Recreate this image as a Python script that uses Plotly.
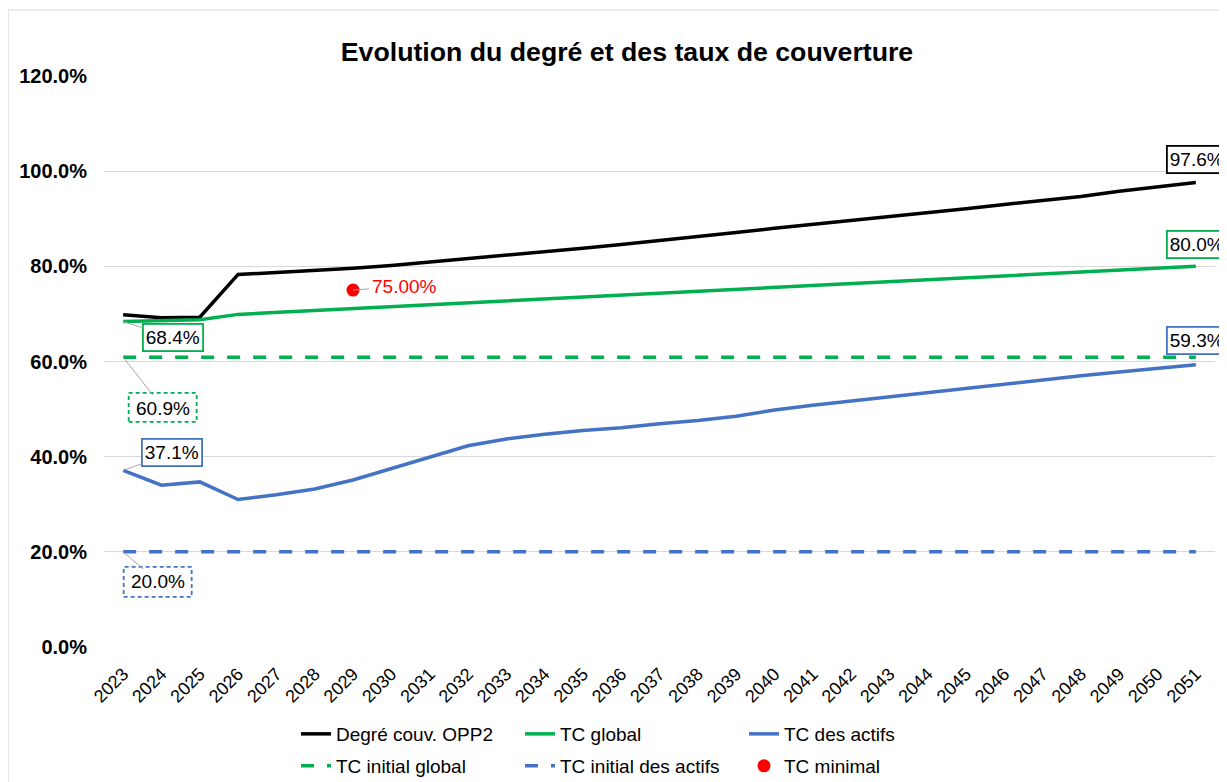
import plotly.graph_objects as go

years = list(range(2023, 2052))
year_labels = [str(y) for y in years]

degre_opp2 = [69.8, 69.2, 69.3, 78.3, 78.7, 79.1, 79.6, 80.2, 80.9, 81.6, 82.3, 83.0,
              83.8, 84.6, 85.4, 86.2, 87.1, 88.0, 88.8, 89.6, 90.5, 91.3, 92.1, 93.0,
              93.8, 94.7, 95.8, 96.7, 97.6]
tc_global = [68.4, 68.6, 68.8, 69.9, 70.3, 70.7, 71.1, 71.5, 71.9, 72.3, 72.7, 73.1,
             73.5, 73.9, 74.3, 74.7, 75.2, 75.6, 76.0, 76.4, 76.8, 77.2, 77.6, 78.0,
             78.4, 78.8, 79.2, 79.6, 80.0]
tc_actifs = [37.1, 34.0, 34.7, 31.0, 32.0, 33.2, 35.1, 37.5, 39.9, 42.3, 43.7, 44.7,
             45.5, 46.1, 46.9, 47.6, 48.5, 49.8, 50.8, 51.7, 52.6, 53.5, 54.4, 55.3,
             56.2, 57.0, 57.8, 58.6, 59.3]
tc_initial_global = [60.9] * len(years)
tc_initial_actifs = [20.0] * len(years)
tc_minimal_year = [2029]
tc_minimal = [75.0]

y_ticks = [0, 20, 40, 60, 80, 100, 120]

BLACK = "#000000"
GREEN = "#00B050"
BLUE = "#4472C4"
RED = "#FF0000"
GRID = "#D9D9D9"
FONT = "Liberation Sans, Arial, sans-serif"

fig = go.Figure()
fig.add_trace(go.Scatter(x=years, y=degre_opp2, mode="lines", name="Degré couv. OPP2",
                         line=dict(color=BLACK, width=3.5), legend="legend"))
fig.add_trace(go.Scatter(x=years, y=tc_global, mode="lines", name="TC global",
                         line=dict(color=GREEN, width=3.5), legend="legend"))
fig.add_trace(go.Scatter(x=years, y=tc_actifs, mode="lines", name="TC des actifs",
                         line=dict(color=BLUE, width=3.5), legend="legend"))
fig.add_trace(go.Scatter(x=years, y=tc_initial_global, mode="lines", name="TC initial global",
                         line=dict(color=GREEN, width=3.5, dash="13px,13px"), legend="legend2"))
fig.add_trace(go.Scatter(x=years, y=tc_initial_actifs, mode="lines", name="TC initial des actifs",
                         line=dict(color=BLUE, width=3.5, dash="13px,13px"), legend="legend2"))
fig.add_trace(go.Scatter(x=tc_minimal_year, y=tc_minimal, mode="markers", name="TC minimal",
                         marker=dict(color=RED, size=13), legend="legend2"))

annotations = []
shapes = []

def boxed(x, y, text, color, xshift, yshift):
    annotations.append(dict(x=x, y=y, text=text, showarrow=False, xshift=xshift, yshift=yshift,
                            font=dict(size=19, color="black", family=FONT),
                            bordercolor=color, borderwidth=1.8, borderpad=2, bgcolor="white"))

def leader(x, y, text, color, ax, ay, border=True, fcolor="black"):
    a = dict(x=x, y=y, text=text, showarrow=True, arrowhead=0, arrowwidth=1,
             arrowcolor="#A6A6A6", ax=ax, ay=ay, axref="pixel", ayref="pixel",
             font=dict(size=19, color=fcolor, family=FONT), borderpad=2)
    if border:
        a.update(bordercolor=color, borderwidth=1.8, bgcolor="white")
    annotations.append(a)

def dashed_box(x, y, color, x0, x1, y0, y1):
    shapes.append(dict(type="rect", xref="x", yref="y", xsizemode="pixel", ysizemode="pixel",
                       xanchor=x, yanchor=y, x0=x0, x1=x1, y0=y0, y1=y1,
                       line=dict(color=color, width=1.8, dash="4px,3px"), fillcolor="rgba(0,0,0,0)"))

# right-side labels
boxed(years[-1], degre_opp2[-1], f"{degre_opp2[-1]:.1f}%", BLACK, 1, 23)
boxed(years[-1], tc_global[-1], f"{tc_global[-1]:.1f}%", GREEN, 1, 22)
boxed(years[-1], tc_actifs[-1], f"{tc_actifs[-1]:.1f}%", BLUE, 1, 24)
# left labels
leader(years[0], tc_global[0], f"{tc_global[0]:.1f}%", GREEN, 50, 16)
leader(years[0], tc_actifs[0], f"{tc_actifs[0]:.1f}%", BLUE, 49, -18)
leader(years[0], tc_initial_global[0], f"{tc_initial_global[0]:.1f}%", GREEN, 40, 51, border=False)
dashed_box(years[0], tc_initial_global[0], GREEN, 5.5, 73.5, -64.7, -35.7)
leader(years[0], tc_initial_actifs[0], f"{tc_initial_actifs[0]:.1f}%", BLUE, 35, 30, border=False)
dashed_box(years[0], tc_initial_actifs[0], BLUE, 0.5, 68.5, -45.1, -15.1)
leader(tc_minimal_year[0], tc_minimal[0], f"{tc_minimal[0]:.2f}%", RED, 51, -4, border=False, fcolor=RED)

# outer chart border
shapes.append(dict(type="rect", xref="paper", yref="paper", x0=-0.0864, x1=1.02, y0=-0.3, y1=1.1156,
                   line=dict(color=GRID, width=1.2), fillcolor="rgba(0,0,0,0)", layer="below"))

# page body has an 8px margin: offset the figure so the plot lands where the reference has it
fig.update_layout(
    width=1227, height=782,
    margin=dict(l=96, r=20, t=68, b=143, autoexpand=False),
    paper_bgcolor="white", plot_bgcolor="white",
    font=dict(family=FONT, color="black"),
    title=dict(text="<b>Evolution du degré et des taux de couverture</b>",
               x=(627 - 104) / 1111, xref="paper", xanchor="center",
               y=1 - 44 / 782, yref="container", yanchor="middle",
               font=dict(size=26.7, family=FONT, color="black")),
    xaxis=dict(range=[2022.5, 2051.5], tickmode="array", tickvals=years, ticktext=year_labels,
               tickangle=-45, showgrid=False, zeroline=False, showline=False, automargin=False,
               tickfont=dict(size=18, family=FONT, color="black"), ticks="",
               ticklabelstandoff=12),
    yaxis=dict(range=[0, 120], tickmode="array", tickvals=y_ticks,
               ticktext=[f"{v:.1f}%" for v in y_ticks], automargin=False,
               showgrid=True, gridcolor=GRID, gridwidth=1.3, zeroline=False, showline=False,
               tickfont=dict(size=20, family=FONT, color="black", weight="bold"),
               ticks="", ticklabelstandoff=16),
    legend=dict(orientation="h", x=(296 - 104) / 1111, xanchor="left",
                y=(647 - 734) / 571, yanchor="middle", entrywidth=179,
                font=dict(size=19, family=FONT, color="black"), bgcolor="rgba(0,0,0,0)"),
    legend2=dict(orientation="h", x=(296 - 104) / 1111, xanchor="left",
                 y=(647 - 766) / 571, yanchor="middle", entrywidth=179,
                 font=dict(size=19, family=FONT, color="black"), bgcolor="rgba(0,0,0,0)"),
    annotations=annotations,
    shapes=shapes,
)

fig.write_html("out.html")
